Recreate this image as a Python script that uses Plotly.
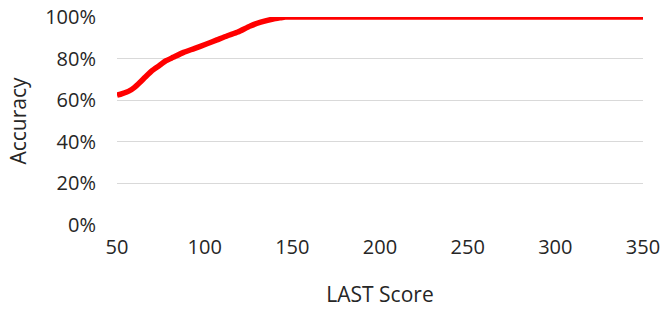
import plotly.graph_objects as go

scores = [50, 53, 57, 60, 63, 66, 70, 74, 78, 82, 88, 94, 101, 107, 113, 119, 126, 132, 139, 143, 146, 150, 200, 250, 300, 350]
accuracy = [0.624, 0.632, 0.645, 0.662, 0.685, 0.71, 0.742, 0.766, 0.79, 0.806, 0.83, 0.848, 0.87, 0.89, 0.91, 0.928, 0.957, 0.975, 0.99, 0.996, 1.0, 1.0, 1.0, 1.0, 1.0, 1.0]

y_ticks = [0, 0.2, 0.4, 0.6, 0.8, 1.0]
x_ticks = [50, 100, 150, 200, 250, 300, 350]

font_family = "Open Sans, Liberation Sans, sans-serif"
text_color = "#262626"

fig = go.Figure()
fig.add_trace(go.Scatter(
    x=scores, y=accuracy, mode="lines",
    line=dict(color="#ff0000", width=5.5, shape="spline", smoothing=0.6),
    cliponaxis=False, hoverinfo="skip", showlegend=False,
))

fig.update_layout(
    width=665, height=313,
    margin=dict(l=117, r=22, t=17, b=88, autoexpand=False),
    paper_bgcolor="white", plot_bgcolor="white",
    font=dict(family=font_family, size=20, color=text_color),
    xaxis=dict(
        range=[50, 350], tickvals=x_ticks, ticktext=[str(v) for v in x_ticks],
        showgrid=False, zeroline=False, showline=False, ticks="",
        ticklabelstandoff=8, automargin=False,
        title=dict(text="LAST Score", font=dict(size=21, color=text_color), standoff=28),
    ),
    yaxis=dict(
        range=[0, 1], tickvals=y_ticks, ticktext=[f"{int(v*100)}%" for v in y_ticks],
        showgrid=True, gridcolor="#d9d9d9", gridwidth=1.2,
        zeroline=False, showline=False, ticks="",
        ticklabelstandoff=20, automargin=False,
        title=dict(text="Accuracy", font=dict(size=21, color=text_color), standoff=12),
    ),
)

fig.write_html("out.html", config={"displayModeBar": False},
               post_script="document.body.style.margin='0';")
